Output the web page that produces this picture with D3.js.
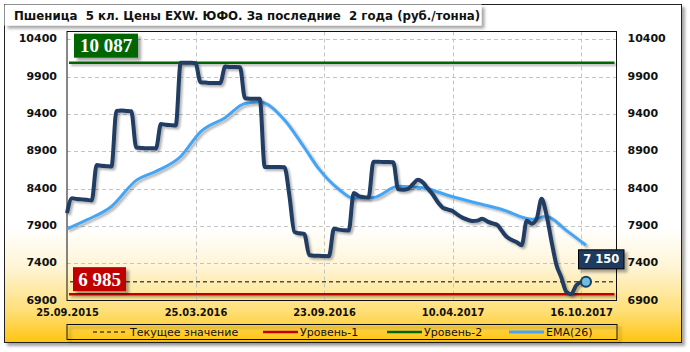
<!DOCTYPE html>
<html>
<head>
<meta charset="utf-8">
<script src="https://cdn.jsdelivr.net/npm/d3@7"></script>
<style>
  body { margin: 0; background: #fff; }
  svg { display: block; }
</style>
</head>
<body>
<div id="chart"></div>
<script>
const title = "Пшеница  5 кл. Цены EXW. ЮФО. За последние  2 года (руб./тонна)";

// weekly prices, index 0 = 25.09.2015
const prices = [
  8070, 8270, 8260, 8255, 8250, 8240, 8715, 8705, 8700, 8695,
  9440, 9445, 9440, 9435, 8950, 8945, 8940, 8940, 8937, 9265,
  9255, 9250, 9245, 10087, 10087, 10085, 10080, 9825, 9820, 9815,
  9815, 9812, 10035, 10030, 10030, 10026, 9610, 9605, 9605, 9603,
  8690, 8690, 8688, 8688, 8686, 8300, 7820, 7800, 7793, 7510,
  7500, 7500, 7495, 7494, 7860, 7850, 7840, 7838, 8340, 8300,
  8285, 8280, 8760, 8760, 8755, 8755, 8753, 8390, 8385, 8397,
  8460, 8517, 8480, 8400, 8320, 8220, 8145, 8120, 8100, 8050,
  8010, 7985, 7965, 7970, 7995, 7960, 7935, 7915, 7830, 7750,
  7710, 7680, 7640, 7970, 7930, 7990, 8262, 8050, 7700, 7380,
  7210, 7020, 6985, 7100, 7145, 7150
];

// EMA(26) read at selected weeks
const emaIdx = [0, 4, 9, 14, 18, 23, 27, 32, 36, 39, 44, 48, 51, 55, 58, 62, 67, 72, 77, 82, 88, 94, 97, 101, 105];
const emaValues = [7860, 7980, 8160, 8510, 8630, 8830, 9160, 9350, 9540, 9560, 9320, 8950, 8660, 8390, 8270, 8280, 8430, 8410, 8310, 8220, 8120, 7990, 8025, 7840, 7640];

const dateLabels = ["25.09.2015", "25.03.2016", "23.09.2016", "10.04.2017", "16.10.2017"];
const dateIdx = [0, 26, 52, 78, 104];
const yTicks = [6900, 7400, 7900, 8400, 8900, 9400, 9900, 10400];

const level1 = 6985;
const level2 = 10087;
const current = 7150;

const legendItems = [
  { name: "Текущее значение", color: "#000", dash: "4,3", width: 1 },
  { name: "Уровень-1", color: "#c00000", dash: null, width: 2.5 },
  { name: "Уровень-2", color: "#006600", dash: null, width: 2.5 },
  { name: "EMA(26)", color: "#45a5f5", dash: null, width: 3 }
];

const width = 690, height = 352;
const plot = { left: 67, right: 616.5, top: 31.5, bottom: 300.5 };

const x = d3.scaleLinear().domain([0, 105]).range([plot.left, 586]);
const y = d3.scaleLinear().domain([6900, 10400]).range([plot.bottom, 39.3]);

const fmt = (v) => d3.format(",")(v).replace(",", " ");

const svg = d3.select("#chart").append("svg")
  .attr("width", width)
  .attr("height", height);

const defs = svg.append("defs");
const grad = defs.append("linearGradient")
  .attr("id", "bg").attr("x1", 0).attr("y1", 0).attr("x2", 0).attr("y2", 1);
[[0, "#ffffff"], [0.66, "#ffffff"], [0.78, "#fff4d4"], [0.9, "#ffe07c"], [1, "#ffc512"]]
  .forEach(([o, c]) => grad.append("stop").attr("offset", o).attr("stop-color", c));

const shadow = (id, d, blur, op) => defs.append("filter")
  .attr("id", id).attr("x", "-10%").attr("y", "-30%").attr("width", "130%").attr("height", "180%")
  .append("feDropShadow")
  .attr("dx", d).attr("dy", d).attr("stdDeviation", blur)
  .attr("flood-color", "#000").attr("flood-opacity", op);
shadow("sh", 3, 1.5, 0.35);
shadow("lineSh", 2, 1.2, 0.3);

// outer panel
svg.append("rect")
  .attr("x", 4.5).attr("y", 4.5).attr("width", 677).attr("height", 338)
  .attr("fill", "url(#bg)").attr("stroke", "#222").attr("filter", "url(#sh)");

// title
svg.append("rect")
  .attr("x", 4.5).attr("y", 4.5).attr("width", 477).attr("height", 21)
  .attr("fill", "#fff").attr("filter", "url(#sh)");
svg.append("text")
  .attr("x", 14).attr("y", 20)
  .style("white-space", "pre")
  .attr("font-family", "'DejaVu Sans Condensed', 'DejaVu Sans', sans-serif")
  .attr("font-weight", "bold").attr("font-size", 13.1)
  .attr("fill", "#111")
  .text(title);

// grid
const grid = svg.append("g")
  .attr("stroke", "#c4c4c4").attr("stroke-dasharray", "4,3").attr("stroke-width", 1);
grid.selectAll(".h").data(yTicks.slice(1)).join("line")
  .attr("x1", plot.left).attr("x2", plot.right)
  .attr("y1", (d) => Math.round(y(d)) + 0.5).attr("y2", (d) => Math.round(y(d)) + 0.5);
grid.selectAll(".v").data(dateIdx.slice(1)).join("line")
  .attr("x1", (d) => Math.round(x(d)) + 0.5).attr("x2", (d) => Math.round(x(d)) + 0.5)
  .attr("y1", plot.top).attr("y2", plot.bottom);

// plot frame
svg.append("rect")
  .attr("x", plot.left).attr("y", plot.top)
  .attr("width", plot.right - plot.left).attr("height", plot.bottom - plot.top)
  .attr("fill", "none").attr("stroke", "#111");

// axes
const axisFont = "'DejaVu Sans', Verdana, sans-serif";
const yLeft = svg.append("g").attr("transform", `translate(${plot.left - 10},-1)`)
  .call(d3.axisLeft(y).tickValues(yTicks).tickFormat(d3.format("d")).tickSize(0).tickPadding(0));
const yRight = svg.append("g").attr("transform", `translate(${plot.right + 11},-1)`)
  .call(d3.axisRight(y).tickValues(yTicks).tickFormat(d3.format("d")).tickSize(0).tickPadding(0));
[yLeft, yRight].forEach((g) => {
  g.select(".domain").remove();
  g.selectAll("text")
    .attr("font-family", axisFont).attr("font-weight", "bold")
    .attr("font-size", 11).attr("fill", "#111");
});

const xAxis = svg.append("g").attr("transform", `translate(0,${plot.bottom})`)
  .call(d3.axisBottom(x).tickValues(dateIdx)
    .tickFormat((d, i) => dateLabels[i]).tickSize(0).tickPadding(8));
xAxis.select(".domain").remove();
xAxis.selectAll("text")
  .attr("font-family", "'DejaVu Sans Condensed', 'DejaVu Sans', sans-serif")
  .attr("font-weight", "bold").attr("font-size", 11).attr("fill", "#111");

// levels
const levels = svg.append("g").attr("filter", "url(#lineSh)");
levels.append("line")
  .attr("x1", plot.left + 2).attr("x2", plot.right - 2)
  .attr("y1", y(level2)).attr("y2", y(level2))
  .attr("stroke", "#006600").attr("stroke-width", 2.5);
levels.append("line")
  .attr("x1", plot.left + 2).attr("x2", plot.right - 2)
  .attr("y1", y(level1)).attr("y2", y(level1))
  .attr("stroke", "#c00000").attr("stroke-width", 2.5);
svg.append("line")
  .attr("x1", plot.left + 3).attr("x2", plot.right - 2)
  .attr("y1", y(current)).attr("y2", y(current))
  .attr("stroke", "#000").attr("stroke-width", 1).attr("stroke-dasharray", "4,3");

// EMA
const emaData = emaIdx.map((d, i) => ({ i: d, v: emaValues[i] }));
svg.append("path")
  .datum(emaData)
  .attr("fill", "none").attr("stroke", "#45a5f5").attr("stroke-width", 3)
  .attr("filter", "url(#lineSh)")
  .attr("d", d3.line().x((d) => x(d.i)).y((d) => y(d.v)).curve(d3.curveMonotoneX));

// price
svg.append("path")
  .datum(prices)
  .attr("fill", "none").attr("stroke", "#203d63").attr("stroke-width", 4)
  .attr("stroke-linejoin", "round")
  .attr("filter", "url(#lineSh)")
  .attr("d", d3.line().x((d, i) => x(i)).y((d) => y(d)).curve(d3.curveMonotoneX));

const last = prices.length - 1;
svg.append("circle")
  .attr("cx", x(last)).attr("cy", y(prices[last])).attr("r", 5)
  .attr("fill", "#6cc0de").attr("stroke", "#203d63").attr("stroke-width", 2);

// value boxes
function valueBox(bx, by, w, h, fill, txt, font, size, stroke) {
  svg.append("rect")
    .attr("x", bx).attr("y", by).attr("width", w).attr("height", h)
    .attr("fill", fill).attr("stroke", stroke || "none")
    .attr("filter", "url(#sh)");
  svg.append("text")
    .attr("x", bx + w / 2).attr("y", by + h / 2)
    .attr("dy", "0.36em").attr("text-anchor", "middle")
    .attr("font-family", font).attr("font-weight", "bold")
    .attr("font-size", size).attr("fill", "#fff")
    .text(txt);
}
const serif = "'Liberation Serif', 'Times New Roman', serif";
valueBox(74, y(level2) - 29, 64, 24, "#006600", fmt(level2), serif, 19);
valueBox(73, y(level1) - 27, 53, 24, "#c00000", fmt(level1), serif, 19);
valueBox(578.5, y(current) - 32, 45.5, 19, "#1f3a5f", fmt(current), axisFont, 11.5, "#000");

// legend
const lg = svg.append("g");
lg.append("rect")
  .attr("x", 67).attr("y", 324.5).attr("width", 550).attr("height", 15)
  .attr("fill", "none").attr("stroke", "#111").attr("filter", "url(#sh)");
const legendX = [93, 263, 387, 509];
legendItems.forEach((item, i) => {
  const lx = legendX[i];
  lg.append("line")
    .attr("x1", lx).attr("x2", lx + 35).attr("y1", 332).attr("y2", 332)
    .attr("stroke", item.color).attr("stroke-width", item.width)
    .attr("stroke-dasharray", item.dash);
  lg.append("text")
    .attr("x", lx + 37).attr("y", 332).attr("dy", "0.36em")
    .attr("font-family", axisFont).attr("font-size", 11).attr("fill", "#111")
    .text(item.name);
});
</script>
</body>
</html>
